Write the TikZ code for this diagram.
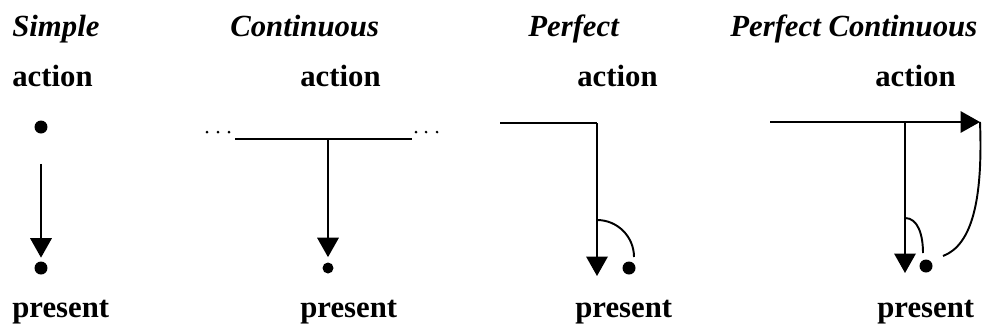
\documentclass[tikz,border=0pt]{standalone}
\usepackage{fontspec}
\setmainfont{Liberation Serif}
\usetikzlibrary{arrows.meta}

\begin{document}
\begin{tikzpicture}[
  x=0.02cm, y=-0.02cm,
  >={Triangle[length=0.39cm, width=0.43cm]},
  tense/.style={font=\fontsize{17.5}{21}\selectfont\bfseries\itshape, anchor=base west, inner sep=0pt},
  word/.style={font=\fontsize{17.5}{21}\selectfont\bfseries, anchor=base west, inner sep=0pt},
  point/.style={circle, fill=black, inner sep=0pt, minimum size=0.26cm},
  timeline/.style={line width=1.1pt},
  pointer/.style={line width=1.1pt, ->},
  tail/.style={fill=black},
]
\useasboundingbox (0,0) rectangle (984,332);

% --- Simple ---
\node[tense] (simple) at (12,36) {Simple};
\node[word] (simpleact) at (12,86) {action};
\node[point] (simpleA) at (41,127) {};
\node[point] (simpleB) at (41,268) {};
\node[word] (simplepres) at (12,317) {present};
\draw[pointer, shorten <=0.6cm, shorten >=0.07cm] (simpleA) -- (simpleB);

% --- Continuous ---
\node[tense] (cont) at (230,36) {Continuous};
\node[word] (contact) at (300,86) {action};
\coordinate (contL) at (235,139);
\coordinate (contR) at (412,139);
\coordinate (contM) at (328,139);
\draw[timeline] (contL) -- (contR);
\foreach \x in {207,218,229,416,426,437} {
  \fill[tail] (\x,132) circle[radius=0.03cm];
}
\node[point, minimum size=0.22cm] (contB) at (328,268) {};
\draw[pointer, shorten >=0.1cm] (contM) -- (contB);
\node[word] (contpres) at (300,317) {present};

% --- Perfect ---
\node[tense] (perf) at (528,36) {Perfect};
\node[word] (perfact) at (577,86) {action};
\coordinate (perfL) at (500,123);
\coordinate (perfC) at (597,123);
\coordinate (perfT) at (597,276);
\coordinate (perfH) at (597,220);
\draw[timeline] (perfL) -- (perfC);
\draw[pointer] (perfC) -- (perfT);
\node[point] (perfB) at (629,268) {};
\draw[timeline] (perfH) arc[start angle=270, end angle=360, radius=37];
\node[word] (perfpres) at (575,317) {present};

% --- Perfect Continuous ---
\node[tense] (pc) at (730,36) {Perfect Continuous};
\node[word] (pcact) at (875,86) {action};
\coordinate (pcL) at (770,122);
\coordinate (pcR) at (980,122);
\coordinate (pcM) at (905,122);
\coordinate (pcT) at (905,273);
\coordinate (pcH) at (905,218);
\coordinate (pcE) at (943,256);
\draw[pointer] (pcL) -- (pcR);
\draw[pointer] (pcM) -- (pcT);
\node[point] (pcB) at (926,266) {};
\draw[timeline] (pcH) .. controls (918,218) and (923,235) .. (923,253);
\draw[timeline] (pcR) .. controls (983,200) and (972,245) .. (pcE);
\node[word] (pcpres) at (877,317) {present};

\end{tikzpicture}
\end{document}
